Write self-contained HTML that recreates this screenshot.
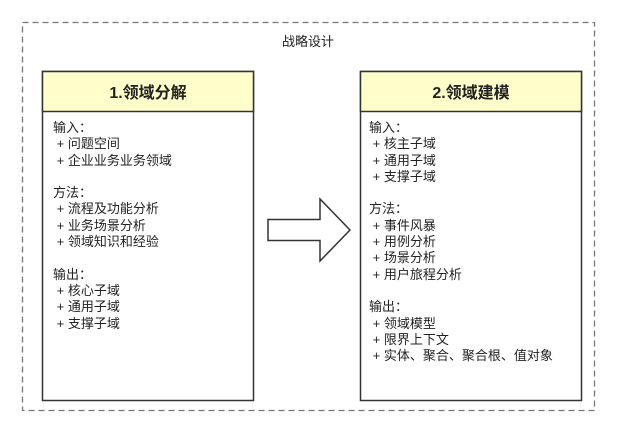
<!DOCTYPE html>
<html><head><meta charset="utf-8"><style>
body{margin:0;width:617px;height:421px;background:#fff;font-family:"Liberation Sans","Noto Sans CJK SC",sans-serif;color:#222;position:relative;overflow:hidden}
.t{position:absolute;font-size:13px;line-height:16.3px;white-space:pre}
</style></head><body>
<svg width="617" height="421" style="position:absolute;left:0;top:0">
<rect x="22.5" y="22.5" width="572" height="388" fill="none" stroke="#777" stroke-width="1.3" stroke-dasharray="6,4"/>
<rect x="42.5" y="71.5" width="211" height="329" fill="#fff" stroke="#333" stroke-width="1.5"/>
<rect x="42.5" y="71.5" width="211" height="40" fill="#ffffcc" stroke="#333" stroke-width="1.5"/>
<rect x="360.5" y="71.5" width="221" height="329" fill="#fff" stroke="#333" stroke-width="1.5"/>
<rect x="360.5" y="71.5" width="221" height="40" fill="#ffffcc" stroke="#333" stroke-width="1.5"/>
<polygon points="268,219.5 320,219.5 320,199 350,230 320,261 320,240.5 268,240.5" fill="#fff" stroke="#333" stroke-width="1.5"/>
<text x="308" y="46" font-size="13" text-anchor="middle" font-family="Liberation Sans,Noto Sans CJK SC,sans-serif" fill="#222">战略设计</text>
<text x="148" y="98" font-size="16" font-weight="bold" text-anchor="middle" font-family="Liberation Sans,Noto Sans CJK SC,sans-serif" fill="#222">1.领域分解</text>
<text x="471" y="98" font-size="16" font-weight="bold" text-anchor="middle" font-family="Liberation Sans,Noto Sans CJK SC,sans-serif" fill="#222">2.领域建模</text>
</svg>
<div class="t" style="left:53px;top:120px">输入：
 + 问题空间
 + 企业业务业务领域

方法：
 + 流程及功能分析
 + 业务场景分析
 + 领域知识和经验

输出：
 + 核心子域
 + 通用子域
 + 支撑子域</div>
<div class="t" style="left:369px;top:120px">输入：
 + 核主子域
 + 通用子域
 + 支撑子域

方法：
 + 事件风暴
 + 用例分析
 + 场景分析
 + 用户旅程分析

输出：
 + 领域模型
 + 限界上下文
 + 实体、聚合、聚合根、值对象</div>
</body></html>
